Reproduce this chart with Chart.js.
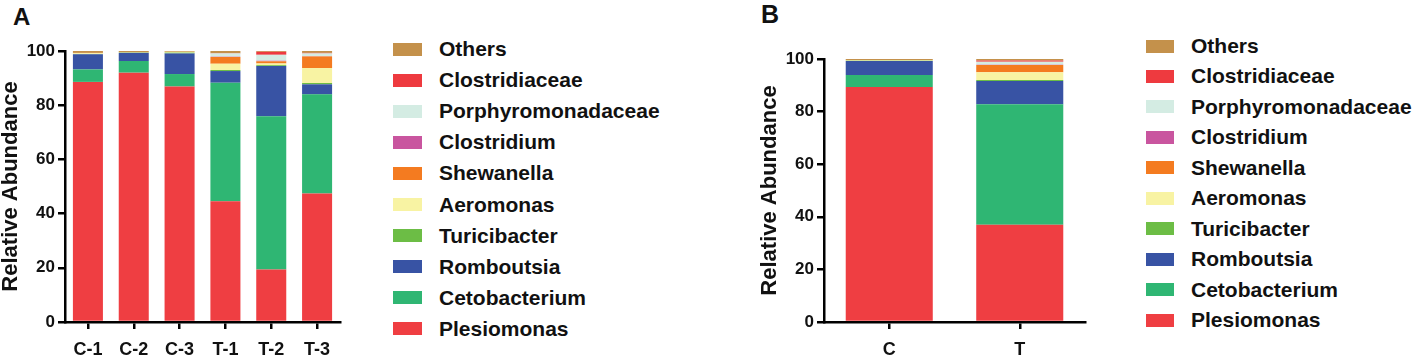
<!DOCTYPE html>
<html>
<head>
<meta charset="utf-8">
<script src="https://cdn.jsdelivr.net/npm/chart.js@4.4.1/dist/chart.umd.min.js"></script>
<style>
  body { margin: 0; background: #fff; }
  #page { position: relative; width: 1417px; height: 358px; overflow: hidden; font-family: "Liberation Sans", Arial, sans-serif; font-weight: bold; color: #111; }
  canvas { position: absolute; top: 0; }
  .panel { position: absolute; font-size: 24px; line-height: 1; }
  .legend-row { position: absolute; display: flex; align-items: center; font-size: 21px; white-space: nowrap; }
  .swatch { display: inline-block; height: 13px; }
</style>
</head>
<body>
<div id="page">
  <div class="panel" style="left:13px; top:5px;">A</div>
  <div class="panel" style="left:761px; top:2px; font-size:25px;">B</div>
  <canvas id="chartA" width="360" height="358" style="left:0px"></canvas>
  <canvas id="chartB" width="360" height="358" style="left:740px"></canvas>
  <div id="legendA"></div>
  <div id="legendB"></div>
</div>
<script>
// categories
const samplesA = ['C-1', 'C-2', 'C-3', 'T-1', 'T-2', 'T-3'];
const groupsB = ['C', 'T'];
const yTicks = [0, 20, 40, 60, 80, 100];

// taxa, bottom of stack first
const taxa = ['Plesiomonas', 'Cetobacterium', 'Romboutsia', 'Turicibacter', 'Aeromonas',
  'Shewanella', 'Clostridium', 'Porphyromonadaceae', 'Clostridiaceae', 'Others'];
const taxaColors = ['#ef3e42', '#2fb673', '#3853a4', '#6cbd45', '#f8f3a3',
  '#f47b20', '#c9559f', '#d4ece3', '#ee3a3f', '#c4914b'];

// panel A, relative abundance per sample (%)
const plesiomonasA = [88.6, 92.0, 86.9, 44.6, 19.4, 47.4];
const cetobacteriumA = [4.6, 4.3, 4.6, 43.7, 56.5, 36.6];
const romboutsiaA = [5.6, 3.0, 7.6, 4.3, 18.6, 3.7];
const turicibacterA = [0.1, 0.1, 0.3, 0.4, 0.3, 0.5];
const aeromonasA = [0.3, 0.1, 0.3, 2.3, 0.6, 5.5];
const shewanellaA = [0.1, 0, 0, 2.5, 0.8, 4.3];
const clostridiumA = [0, 0, 0, 0.1, 0.2, 0.1];
const porphyromonadaceaeA = [0, 0, 0, 1.2, 2.2, 1.0];
const clostridiaceaeA = [0, 0, 0, 0.1, 1.1, 0.2];
const othersA = [0.7, 0.5, 0.3, 0.8, 0.3, 0.7];

// panel B, relative abundance per group (%)
const plesiomonasB = [89.4, 37.0];
const cetobacteriumB = [4.5, 45.8];
const romboutsiaB = [5.3, 8.8];
const turicibacterB = [0.1, 0.4];
const aeromonasB = [0.2, 3.0];
const shewanellaB = [0, 2.7];
const clostridiumB = [0, 0.1];
const porphyromonadaceaeB = [0, 1.2];
const clostridiaceaeB = [0, 0.4];
const othersB = [0.5, 0.6];

const seriesA = [plesiomonasA, cetobacteriumA, romboutsiaA, turicibacterA, aeromonasA,
  shewanellaA, clostridiumA, porphyromonadaceaeA, clostridiaceaeA, othersA];
const seriesB = [plesiomonasB, cetobacteriumB, romboutsiaB, turicibacterB, aeromonasB,
  shewanellaB, clostridiumB, porphyromonadaceaeB, clostridiaceaeB, othersB];

const FONT = '"Liberation Sans", Arial, sans-serif';

function makeChart(canvasId, labels, series, opts) {
  const datasets = series.map((data, i) => ({
    label: taxa[i],
    data,
    backgroundColor: taxaColors[i],
    borderWidth: 0,
    barPercentage: opts.barPct,
    categoryPercentage: 1
  }));

  return new Chart(document.getElementById(canvasId), {
    type: 'bar',
    data: { labels, datasets },
    options: {
      responsive: false,
      animation: false,
      layout: { padding: { top: opts.top, right: opts.right, left: 0, bottom: 0 } },
      plugins: { legend: { display: false }, tooltip: { enabled: false } },
      scales: {
        x: {
          stacked: true,
          grid: { display: true, drawOnChartArea: false, offset: false, color: '#000', lineWidth: 2.5, tickLength: 7 },
          border: { display: true, color: '#000', width: 2.5 },
          ticks: { color: '#111', padding: 10, font: { family: FONT, size: 18, weight: 'bold' } },
          afterFit: s => { s.height = 36; }
        },
        y: {
          stacked: true,
          min: 0, max: 100,
          afterBuildTicks: s => { s.ticks = yTicks.map(v => ({ value: v })); },
          grid: { display: true, drawOnChartArea: false, color: '#000', lineWidth: 2.5, tickLength: 7 },
          border: { display: true, color: '#000', width: 2.5 },
          ticks: { color: '#111', padding: 3, font: { family: FONT, size: 17, weight: 'bold' } },
          title: {
            display: true, text: 'Relative Abundance', color: '#111',
            padding: { top: opts.titlePad, bottom: 0 },
            font: { family: FONT, size: 22, weight: 'bold', lineHeight: 1 }
          },
          afterFit: s => { s.width = opts.yWidth; }
        }
      }
    }
  });
}

function makeLegend(elId, left, firstY, step, boxW, textX) {
  const el = document.getElementById(elId);
  // legend lists top of stack first
  for (let i = taxa.length - 1, row = 0; i >= 0; i--, row++) {
    const r = document.createElement('div');
    r.className = 'legend-row';
    r.style.left = left + 'px';
    r.style.top = (firstY + row * step - 15) + 'px';
    r.style.height = '30px';
    const sw = document.createElement('span');
    sw.className = 'swatch';
    sw.style.width = boxW + 'px';
    sw.style.background = taxaColors[i];
    sw.style.marginRight = (textX - left - boxW) + 'px';
    const t = document.createElement('span');
    t.textContent = taxa[i];
    r.appendChild(sw);
    r.appendChild(t);
    el.appendChild(r);
  }
}

makeChart('chartA', samplesA, seriesA, { barPct: 0.655, top: 51, right: 20, yWidth: 65, titlePad: 0 });
makeChart('chartB', groupsB, seriesB, { barPct: 0.667, top: 59, right: 15, yWidth: 84, titlePad: 18.5 });

makeLegend('legendA', 393, 49, 31.1, 29, 439);
makeLegend('legendB', 1146, 46, 30.45, 28, 1191);
</script>
</body>
</html>
